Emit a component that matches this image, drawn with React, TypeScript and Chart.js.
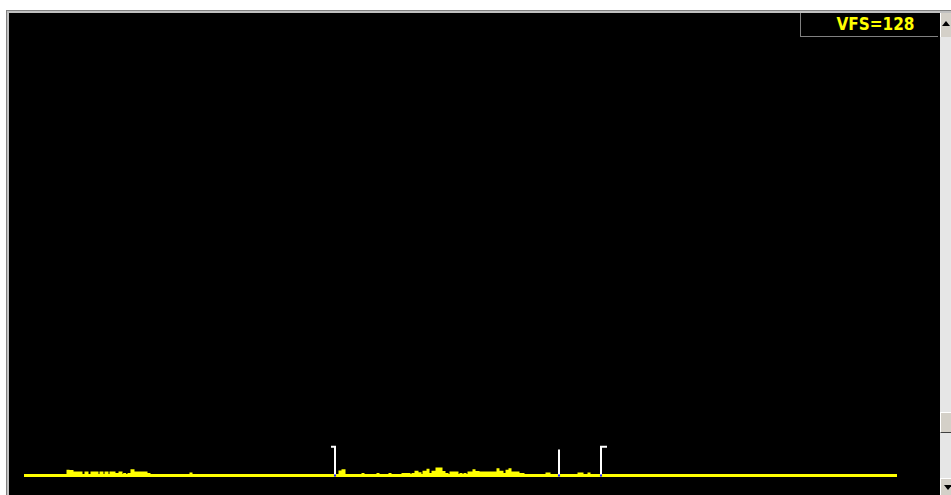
import React, { useEffect, useRef } from "react";
import { Chart, registerables } from "chart.js";

Chart.register(...registerables);

// Spectrum: frequency bin range and full scale
const binStart = 24;
const binEnd = 897;
const binMax = 951;
const fullScale = 128;
const floorLevel = -5.41;
const vfsLabel = "VFS=128";

// Small spectral bumps: bin position, width (bins), level
const bumpBins = [
  68, 71, 75, 80, 86, 92, 96, 101, 106, 111, 117, 120, 124, 129, 132, 136, 141, 145, 149,
  191,
  340, 343, 363, 378, 390, 403, 406, 409, 413, 416, 420, 424, 428, 430, 433, 437, 440, 443,
  447, 451, 456, 461, 465, 469, 474, 477, 481, 485, 490, 494, 498, 501, 505, 507, 510, 512,
  516, 520, 523, 547, 549, 579, 582, 589,
];
const bumpWidths = [
  0, 1, 2, 1, 1, 1, 1, 1, 1, 3, 0, 1, 1, 0, 1, 2, 1, 1, 0,
  0,
  0, 1, 0, 0, 0, 0, 0, 0, 0, 1, 0, 1, 0, 0, 1, 1, 1, 1,
  0, 2, 1, 0, 0, 2, 0, 1, 1, 2, 1, 1, 0, 1, 0, 0, 0, 2,
  2, 0, 0, 0, 0, 0, 0, 0,
];
const bumpLevels = [
  1.6, 1.1, 0.7, 0.7, 0.7, 0.7, 0.7, 0.7, 0.7, 0.7, 0.7, 0.7, 0.7, 0.7, 1.3, 0.7, 0.7, 0.7, 0.7,
  0.8,
  1.4, 1.3, 0.7, 0.7, 0.7, 0.7, 0.7, 0.7, 0.7, 0.9, 0.9, 0.9, 1.9, 0.7, 0.9, 1.8, 1.8, 0.8,
  0.7, 0.7, 0.7, 0.7, 0.7, 0.7, 1.7, 0.8, 0.7, 0.7, 0.7, 0.7, 2.0, 0.9, 0.7, 1.6, 2.0, 0.7,
  0.7, 0.7, 0.7, 0.8, 0.8, 0.8, 0.8, 0.8,
];

// Markers: [tick bin, vertical bin, level]
const markerLeft = [331, 335, 8.0];
const markerMid = [559, 559, 7.2];
const markerRight = [607, 601, 8.0];

function buildTrace() {
  const pts: { x: number; y: number }[] = [{ x: binStart, y: 0 }];
  for (let i = 0; i < bumpBins.length; i++) {
    const x = bumpBins[i];
    const w = bumpWidths[i];
    const h = bumpLevels[i];
    pts.push({ x, y: 0 }, { x, y: h }, { x: x + w, y: h }, { x: x + w, y: 0 });
  }
  pts.push({ x: binEnd, y: 0 });
  return pts;
}

function markerData(m: number[]) {
  return [
    { x: m[0], y: m[2] },
    { x: m[1], y: m[2] },
    { x: m[1], y: 0 },
  ];
}

export default function App() {
  const ref = useRef<HTMLCanvasElement>(null);
  useEffect(() => {
    if (!ref.current) return;
    const markerDs = (m: number[]) => ({
      data: markerData(m),
      borderColor: "#ffffff",
      borderWidth: 2,
      pointRadius: (ctx: any) => (ctx.dataIndex === 2 ? 1.5 : 0),
      pointStyle: "rect" as const,
      pointBackgroundColor: "#2020ff",
      pointBorderColor: "#2020ff",
      pointBorderWidth: 0,
      tension: 0,
      order: 0,
    });
    const chart = new Chart(ref.current, {
      type: "line",
      data: {
        datasets: [
          {
            data: buildTrace(),
            borderColor: "#ffff00",
            borderWidth: 3,
            pointRadius: 0,
            tension: 0,
            order: 1,
          },
          markerDs(markerLeft),
          markerDs(markerMid),
          markerDs(markerRight),
        ],
      },
      options: {
        responsive: false,
        animation: false,
        events: [],
        layout: { autoPadding: false, padding: { top: 14, bottom: 0, left: 0, right: 0 } },
        plugins: { legend: { display: false }, tooltip: { enabled: false } },
        scales: {
          x: { type: "linear", min: 0, max: binMax, display: false },
          y: { type: "linear", min: floorLevel, max: fullScale, display: false },
        },
      },
    });
    return () => chart.destroy();
  }, []);

  return (
    <div
      style={{
        position: "fixed",
        left: 0,
        top: 0,
        width: 951,
        height: 495,
        background: "#ffffff",
        overflow: "hidden",
      }}
    >
      {/* window frame */}
      <div
        style={{
          position: "absolute",
          left: 6,
          top: 10,
          width: 945,
          height: 485,
          background: "#c0c0c0",
          borderTop: "1px solid #808080",
          borderLeft: "1px solid #808080",
          boxSizing: "border-box",
        }}
      />
      {/* black plot panel */}
      <div
        style={{
          position: "absolute",
          left: 9,
          top: 13,
          width: 931,
          height: 482,
          background: "#000000",
        }}
      />
      {/* scrollbar */}
      <div
        style={{
          position: "absolute",
          left: 940,
          top: 13,
          width: 11,
          height: 482,
          background: "#e6e6e6",
        }}
      />
      <div
        style={{
          position: "absolute",
          left: 940,
          top: 13,
          width: 11,
          height: 24,
          background: "#d4d0c8",
          borderLeft: "1px solid #ffffff",
          boxSizing: "border-box",
        }}
      />
      <div
        style={{
          position: "absolute",
          left: 942,
          top: 21,
          width: 0,
          height: 0,
          borderLeft: "4px solid transparent",
          borderRight: "4px solid transparent",
          borderBottom: "5px solid #000000",
        }}
      />
      <div
        style={{
          position: "absolute",
          left: 940,
          top: 412,
          width: 11,
          height: 21,
          background: "#d4d0c8",
          borderTop: "1px solid #ffffff",
          borderLeft: "1px solid #ffffff",
          borderBottom: "1px solid #404040",
          boxSizing: "border-box",
        }}
      />
      <div
        style={{
          position: "absolute",
          left: 940,
          top: 478,
          width: 11,
          height: 17,
          background: "#d4d0c8",
          borderTop: "1px solid #ffffff",
          borderLeft: "1px solid #ffffff",
          boxSizing: "border-box",
        }}
      />
      <div
        style={{
          position: "absolute",
          left: 944,
          top: 485,
          width: 0,
          height: 0,
          borderLeft: "4px solid transparent",
          borderRight: "4px solid transparent",
          borderTop: "5px solid #000000",
        }}
      />
      <canvas
        ref={ref}
        width={951}
        height={495}
        style={{ position: "absolute", left: 0, top: 0, width: 951, height: 495 }}
      />
      {/* VFS box */}
      <div
        style={{
          position: "absolute",
          left: 800,
          top: 13,
          width: 138,
          height: 24,
          background: "#000000",
          borderLeft: "1px solid #808080",
          borderBottom: "1px solid #808080",
          boxSizing: "border-box",
          color: "#ffff00",
          fontFamily: "'Liberation Sans Narrow', 'DejaVu Sans Condensed', Arial, sans-serif",
          fontWeight: "bold",
          fontSize: 17,
          lineHeight: "23px",
          textAlign: "center",
          paddingLeft: 12,
        }}
      >
        {vfsLabel}
      </div>
    </div>
  );
}
